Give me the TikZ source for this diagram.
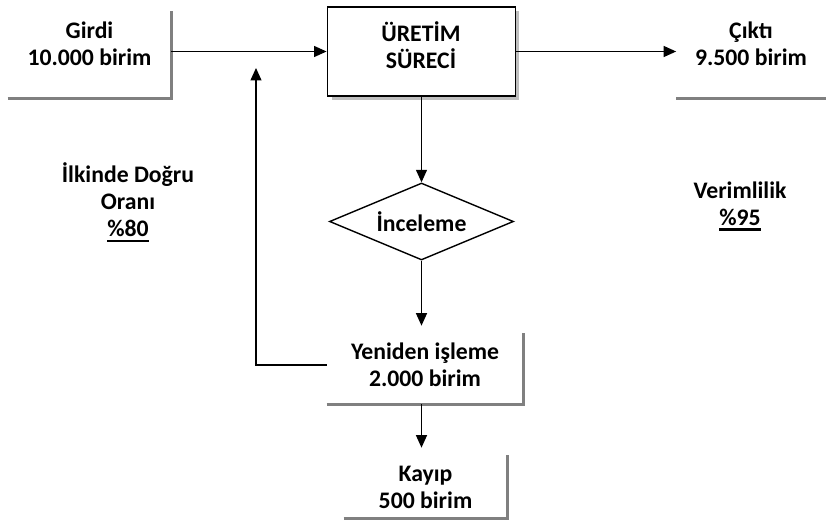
\documentclass[tikz,border=0pt]{standalone}
\usepackage{fontspec}
\setmainfont{Carlito}
\usepackage{tikz}
\usetikzlibrary{arrows.meta, shapes.geometric, shadows}
\newcommand{\ulnum}[1]{\setbox0\hbox{#1}\rlap{\rule[-3pt]{\wd0}{1.3pt}}\box0}
\tikzset{
  txt/.style = {align=center, inner sep=0pt, text centered, font=\fontsize{13.5pt}{15.5pt}\selectfont\bfseries},
  procbox/.style = {rectangle, draw=black, line width=1.1pt, fill=white, minimum width=3.76cm, minimum height=1.78cm,
    drop shadow={shadow xshift=0.08cm, shadow yshift=-0.08cm, fill=black!25, opacity=1}},
  checkbox/.style = {txt, diamond, draw=black, line width=0.8pt, aspect=2.4, minimum width=3.68cm, minimum height=1.54cm},
  grayedge/.style = {draw=black!50, line width=0.06cm},
  flow/.style = {-{Triangle[length=0.25cm, width=0.22cm]}, line width=0.7pt}
}
\begin{document}
\begin{tikzpicture}[x=0.02cm, y=-0.02cm]
  \useasboundingbox (0,0) rectangle (831,520);
  \node [txt, minimum width=3.26cm, minimum height=2.16cm] (girdi) at (89.5,44) {Girdi\\10.000 birim};
  \node [procbox] (uretim) at (421.5,51.5) {};
  \node [txt] (uretimtxt) at (421,45) {ÜRETİM\\SÜRECİ};
  \node [txt, minimum width=2.98cm, minimum height=2.16cm] (cikti) at (751,44) {Çıktı\\9.500 birim};
  \node [checkbox] (inceleme) at (421.5,221.5) {İnceleme};
  \node [txt, minimum width=3.92cm, minimum height=1.56cm] (yeniden) at (425,365) {Yeniden işleme\\2.000 birim};
  \node [txt, minimum width=3.26cm, minimum height=1.22cm] (kayip) at (425.5,487.5) {Kayıp\\500 birim};
  \node [txt] (ilk) at (128,202) {İlkinde Doğru\\Oranı\\\ulnum{\%80}};
  \node [txt] (verim) at (740,206) {Verimlilik\\\ulnum{\%95}};
  \coordinate (back) at (256,68);

  \draw [grayedge] (girdi.south west) -- (girdi.south east) -- ++(0,-87);
  \draw [grayedge] (cikti.south west) -- (cikti.south east);
  \draw [grayedge] (yeniden.south west) -- (yeniden.south east) -- ++(0,-71);
  \draw [grayedge] (kayip.south west) -- (kayip.south east) -- ++(0,-63);

  \draw [flow] (girdi.east |- uretim.west) -- (uretim.west);
  \draw [flow] (uretim.east) -- (cikti.west |- uretim.east);
  \draw [flow] (uretim) -- (inceleme);
  \draw [flow] (inceleme) -- (yeniden.north -| inceleme);
  \draw [flow] (yeniden.west) -| (back);
  \draw [flow, shorten >=0.18cm] (yeniden.south -| inceleme) -- (kayip.north -| inceleme);
\end{tikzpicture}
\end{document}
